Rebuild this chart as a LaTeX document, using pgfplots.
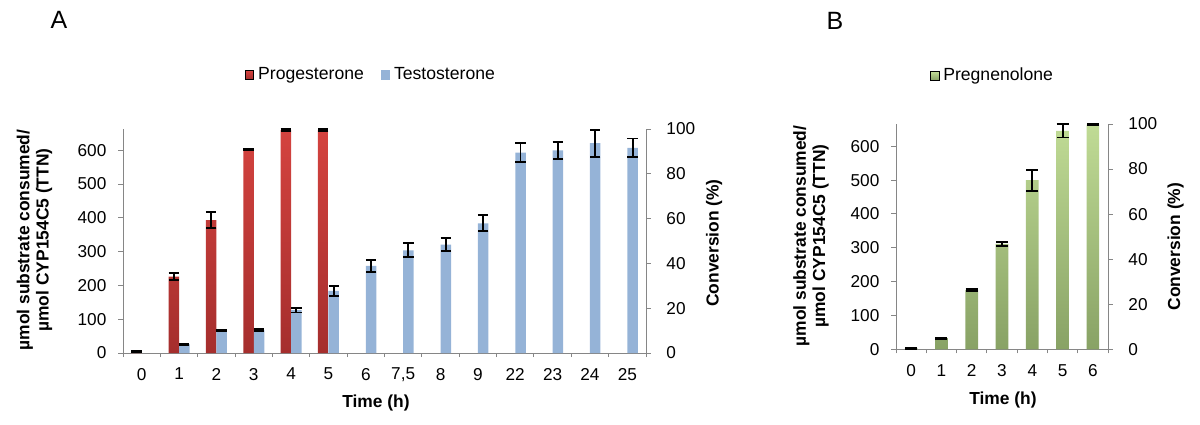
\documentclass[border=0pt]{standalone}
\usepackage{pgfplots}
\usepackage{pgfplotstable}
\pgfplotsset{compat=1.18}
\usepackage{fontspec}
\setmainfont{Liberation Sans}
\definecolor{axgray}{HTML}{868686}
\definecolor{redtop}{HTML}{D4433F}
\definecolor{redbot}{HTML}{A52E2D}
\definecolor{bluef}{HTML}{95B3D7}
\definecolor{greentop}{HTML}{C0DB95}
\definecolor{greenbot}{HTML}{88A265}
\newcommand\tfont{\fontsize{8.6}{9.5}\selectfont}
\newcommand\lfont{\fontsize{8.7}{9.6}\selectfont\bfseries}
\pgfplotstableread{
x y e
0 4 1
1 226 10
2 393 23
3 602 2
4 660 2
5 660 2
}\progesterone
\pgfplotstableread{
x y e
1 26 1.5
2 66 1.5
3 68 4
4 127 7
5 184 15
6 258 17
7 304 21
8 321 19
9 384 24
10 593 28
11 600 25
12 621 40
13 607 28
}\testosterone
\pgfplotstableread{
x y e
0 3 1
1 33 2
2 176 3
3 312 6
4 500 31
5 646 20
6 664 1
}\pregnenolone
\pgfplotsset{
  common/.style={
    scale only axis, anchor=south west,
    /pgf/number format/assume math mode=true,
    tick align=outside,
    axis line style={draw=axgray, line width=0.5pt},
    tick style={draw=axgray, line width=0.5pt},
    major tick length=2.4pt, minor tick length=2pt,
    ticklabel style={font=\tfont, text=black},
    xticklabel style={yshift=-1.6pt},
    ymin=0, clip=false,
  },
  leftax/.style={yticklabel style={xshift=-2.4pt}},
  rightax/.style={yticklabel style={xshift=4.3pt}},
  errs/.style={error bars/.cd, y dir=both, y explicit,
    error bar style={draw=black, line width=0.95pt},
    error mark options={draw=black, rotate=90, mark size=#1, line width=0.95pt}},
}
\begin{document}
\begin{tikzpicture}
\useasboundingbox (0,0) rectangle (600pt,212pt);
% ---------------- Panel A ----------------
\begin{axis}[common, leftax,
  at={(61.5pt,35.5pt)}, width=261.5pt, height=112pt,
  xmin=-0.5, xmax=13.5, ymax=663,
  axis lines*=left,
  xtick={0,...,13}, xticklabels={0,1,2,3,4,5,6,{7,5},8,9,22,23,24,25},
  minor xtick={-0.5,0.5,...,13.5},
  major x tick style={draw=none},
  ytick={0,100,...,600},
  legend style={at={(0.476,1.241)}, anchor=center, draw=none, fill=none,
    legend columns=2, font=\fontsize{8.8}{10}\selectfont,
    /tikz/every even column/.append style={column sep=6.5pt}},
]
\addlegendimage{legend image code/.code={\fill[top color=redtop,bottom color=redbot] (0pt,-2.1pt) rectangle (4.2pt,2.1pt);}}
\addlegendentry{Progesterone}
\addlegendimage{legend image code/.code={\fill[bluef] (0pt,-2.1pt) rectangle (4.2pt,2.1pt);}}
\addlegendentry{Testosterone}
\addplot[forget plot, ybar, bar width=5.25pt, bar shift=-2.625pt, draw=none,
  top color=redtop, bottom color=redbot]
  table[x=x, y=y] {\progesterone};
\addplot[forget plot, ybar, bar width=5.25pt, bar shift=2.625pt, draw=none,
  fill=bluef]
  table[x=x, y=y] {\testosterone};
% error bars at the bar centres (bar shift = 2.625pt = 0.1405 category)
\addplot[forget plot, draw=none, mark=none, errs=2.6pt]
  table[x expr=\thisrow{x}-0.1405, y=y, y error=e] {\progesterone};
\addplot[forget plot, draw=none, mark=none, errs=2.6pt]
  table[x expr=\thisrow{x}+0.1405, y=y, y error=e] {\testosterone};
\end{axis}
\begin{axis}[common, rightax,
  at={(61.5pt,35.5pt)}, width=261.5pt, height=112pt,
  xmin=-0.5, xmax=13.5, ymax=100,
  axis y line*=right, axis x line=none,
  ytick={0,20,...,100},
]
\addplot[draw=none, forget plot] coordinates {(0,0)};
\end{axis}
% ---------------- Panel B ----------------
\begin{axis}[common, leftax,
  at={(448pt,37.35pt)}, width=106pt, height=112.65pt,
  xmin=-0.5, xmax=6.5, ymax=666,
  axis lines*=left,
  xtick={0,...,6},
  minor xtick={-0.5,0.5,...,6.5},
  major x tick style={draw=none},
  ytick={0,100,...,600},
  legend style={at={(0.46,1.213)}, anchor=center, draw=none, fill=none,
    legend columns=1, font=\fontsize{8.8}{10}\selectfont},
]
\addlegendimage{legend image code/.code={\fill[top color=greentop,bottom color=greenbot] (0pt,-2.1pt) rectangle (4.2pt,2.1pt);}}
\addlegendentry{Pregnenolone}
\addplot[forget plot, ybar, bar width=6.35pt, bar shift=0pt, draw=none,
  top color=greentop, bottom color=greenbot]
  table[x=x, y=y] {\pregnenolone};
\addplot[forget plot, draw=none, mark=none, errs=3pt]
  table[x=x, y=y, y error=e] {\pregnenolone};
\end{axis}
\begin{axis}[common, rightax,
  at={(448pt,37.35pt)}, width=106pt, height=112.65pt,
  xmin=-0.5, xmax=6.5, ymax=100,
  axis y line*=right, axis x line=none,
  ytick={0,20,...,100},
]
\addplot[draw=none, forget plot] coordinates {(0,0)};
\end{axis}
% ---------------- Text ----------------
\node[font=\fontsize{12.5}{14}\selectfont] at (29.5pt,202pt) {A};
\node[font=\fontsize{12.5}{14}\selectfont] at (417.5pt,201.75pt) {B};
\node[rotate=90, align=center, font=\lfont] at (17.25pt,92pt) {µmol substrate consumed/\\µmol CYP154C5 (TTN)};
\node[rotate=90, font=\lfont] at (357pt,90.5pt) {Conversion (\%)};
\node[font=\lfont] at (188pt,10.5pt) {Time (h)};
\node[rotate=90, align=center, font=\lfont] at (405.5pt,94pt) {µmol substrate consumed/\\µmol CYP154C5 (TTN)};
\node[rotate=90, font=\lfont] at (587.75pt,88.65pt) {Conversion (\%)};
\node[font=\lfont] at (501.5pt,12pt) {Time (h)};
\end{tikzpicture}
\end{document}
